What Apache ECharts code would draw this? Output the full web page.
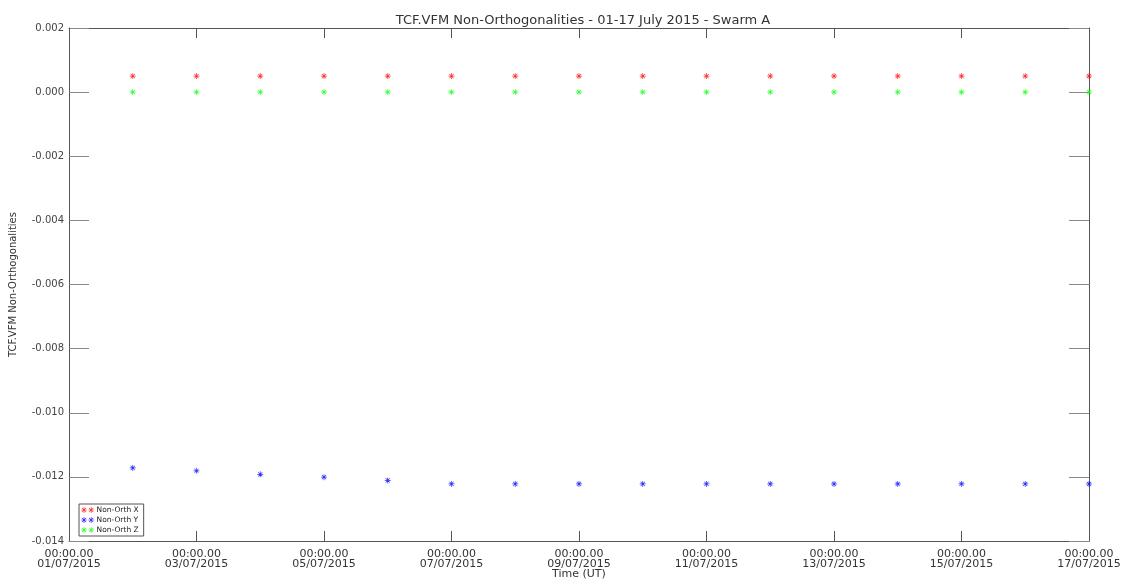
<!DOCTYPE html>
<html lang="en">
<head>
    <meta charset="utf-8" />
    <title>TCF.VFM Non-Orthogonalities</title>
    <script src="https://cdn.jsdelivr.net/npm/echarts@6/dist/echarts.min.js"></script>
</head>
<body style="margin:0">
    <div id="main" style="width:1132px;height:580px"></div>
    <script>
        // days since 01/07/2015 00:00 (point k is day k+1 of July)
        var days = [1, 2, 3, 4, 5, 6, 7, 8, 9, 10, 11, 12, 13, 14, 15, 16];
        var nonOrthX = [0.0005, 0.0005, 0.0005, 0.0005, 0.0005, 0.0005, 0.0005, 0.0005,
                        0.0005, 0.0005, 0.0005, 0.0005, 0.0005, 0.0005, 0.0005, 0.0005];
        var nonOrthY = [-0.01172, -0.01181, -0.01192, -0.01201, -0.01211, -0.01222, -0.01222, -0.01222,
                        -0.01222, -0.01222, -0.01222, -0.01222, -0.01222, -0.01222, -0.01222, -0.01222];
        var nonOrthZ = [0.0, 0.0, 0.0, 0.0, 0.0, 0.0, 0.0, 0.0,
                        0.0, 0.0, 0.0, 0.0, 0.0, 0.0, 0.0, 0.0];
        var seriesNames = ['Non-Orth X', 'Non-Orth Y', 'Non-Orth Z'];
        var seriesColors = ['#ff0000', '#0000ff', '#00ff00'];

        // asterisk marker
        var star = 'path://M-0.6,-5L0.6,-5L0.6,5L-0.6,5Z M-5,-0.6L5,-0.6L5,0.6L-5,0.6Z ' +
            'M-3.9,-3.1L-3.1,-3.9L3.9,3.1L3.1,3.9Z M3.1,-3.9L3.9,-3.1L-3.1,3.9L-3.9,3.1Z';
        var star2 = 'path://M-0.6,-5L0.6,-5L0.6,5L-0.6,5Z M-5,-0.6L5,-0.6L5,0.6L-5,0.6Z ' +
            'M-3.9,-3.1L-3.1,-3.9L3.9,3.1L3.1,3.9Z M3.1,-3.9L3.9,-3.1L-3.1,3.9L-3.9,3.1Z ' +
            'M11.4,-5L12.6,-5L12.6,5L11.4,5Z M7,-0.6L17,-0.6L17,0.6L7,0.6Z ' +
            'M8.1,-3.1L8.9,-3.9L15.9,3.1L15.1,3.9Z M15.1,-3.9L15.9,-3.1L8.9,3.9L8.1,3.1Z';

        function pad(n) { return n < 10 ? '0' + n : '' + n; }

        var font = 'DejaVu Sans';
        var chart = echarts.init(document.getElementById('main'));

        var xBase = {
            type: 'value', min: 0, max: 16, interval: 2,
            axisLine: { show: true, onZero: false, lineStyle: { color: '#555', width: 1 } },
            axisTick: { show: true, inside: true, length: 10, lineStyle: { color: '#555' } },
            splitLine: { show: false }
        };
        var yBase = {
            type: 'value', min: -0.014, max: 0.002, interval: 0.002,
            axisLine: { show: true, onZero: false, lineStyle: { color: '#555', width: 1 } },
            axisTick: { show: true, inside: true, length: 20, lineStyle: { color: '#888' } },
            splitLine: { show: false }
        };

        function makeSeries(i, values) {
            return {
                name: seriesNames[i],
                type: 'scatter',
                symbol: star,
                symbolSize: 6,
                clip: false,
                itemStyle: { color: seriesColors[i] },
                data: days.map(function (d, k) { return [d, values[k]]; })
            };
        }

        var option = {
            animation: false,
            backgroundColor: '#fff',
            title: {
                text: 'TCF.VFM Non-Orthogonalities - 01-17 July 2015 - Swarm A',
                left: 578, top: 9, textAlign: 'center',
                textStyle: { fontFamily: font, fontSize: 13, fontWeight: 'normal', color: '#333' }
            },
            legend: {
                data: seriesNames.map(function (n) { return { name: n, icon: star2 }; }),
                orient: 'vertical',
                left: 79, top: 504,
                itemWidth: 14, itemHeight: 6, itemGap: 2,
                padding: [2, 5, 2, 2],
                borderColor: '#555', borderWidth: 1,
                backgroundColor: '#fff',
                textStyle: { fontFamily: font, fontSize: 7.5, lineHeight: 8, color: '#222', padding: [0, 0, 0, -3] }
            },
            grid: { left: 69, right: 43, top: 28, bottom: 39, containLabel: false, outerBoundsMode: 'none' },
            xAxis: [
                Object.assign({}, xBase, {
                    position: 'bottom',
                    name: 'Time (UT)', nameLocation: 'middle', nameGap: 28, nameMoveOverlap: false,
                    nameTextStyle: { fontFamily: font, fontSize: 11, color: '#333', verticalAlign: 'top' },
                    axisLabel: {
                        fontFamily: font, fontSize: 11, color: '#333', margin: 8, lineHeight: 10,
                        formatter: function (v) { return '00:00.00\n' + pad(v + 1) + '/07/2015'; }
                    }
                }),
                Object.assign({}, xBase, { position: 'top', axisLabel: { show: false } })
            ],
            yAxis: [
                Object.assign({}, yBase, {
                    position: 'left',
                    name: 'TCF.VFM Non-Orthogonalities', nameLocation: 'middle', nameGap: 51, nameMoveOverlap: false,
                    nameTextStyle: { fontFamily: font, fontSize: 10, color: '#333' },
                    axisLabel: {
                        fontFamily: font, fontSize: 10, color: '#444', margin: 5,
                        formatter: function (v) { return v.toFixed(3); }
                    }
                }),
                Object.assign({}, yBase, { position: 'right', axisLabel: { show: false } })
            ],
            series: [
                makeSeries(0, nonOrthX),
                makeSeries(1, nonOrthY),
                makeSeries(2, nonOrthZ)
            ]
        };
        chart.setOption(option);
    </script>
</body>
</html>
